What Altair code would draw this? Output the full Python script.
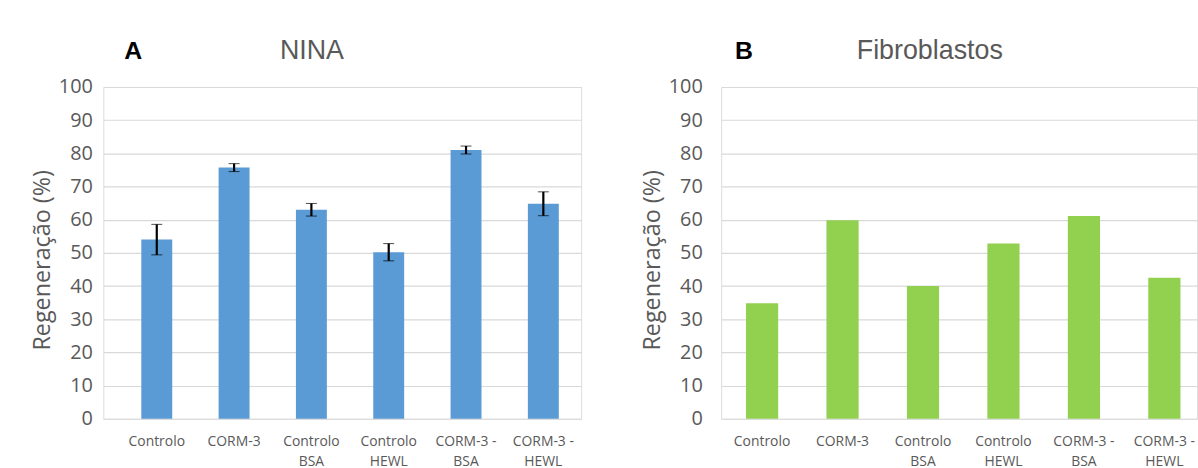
import altair as alt
import pandas as pd

categories = ["Controlo", "CORM-3", "Controlo\nBSA", "Controlo\nHEWL", "CORM-3 -\nBSA", "CORM-3 -\nHEWL"]

# Panel A: NINA (mean and error)
nina_mean = [54.0, 75.7, 63.0, 50.2, 81.0, 64.8]
nina_err = [4.6, 1.2, 1.9, 2.6, 1.2, 3.6]

# Panel B: Fibroblastos
fibro_mean = [34.8, 59.8, 40.0, 52.8, 61.1, 42.5]

LABEL_FONT = "Open Sans"
GREY = "#595959"


def y_enc(field, label_pad):
    return alt.Y(
        f"{field}:Q",
        title="Regeneração (%)",
        scale=alt.Scale(domain=[0, 100], nice=False),
        axis=alt.Axis(
            values=list(range(0, 101, 10)),
            labelFont=LABEL_FONT,
            labelFontSize=20,
            labelColor=GREY,
            labelPadding=label_pad,
            titleFont=LABEL_FONT,
            titleFontSize=23.5,
            titleFontWeight="normal",
            titleColor=GREY,
            titlePadding=4,
            titleY=174,
            domain=False,
            ticks=False,
            gridColor="#d9d9d9",
            gridWidth=1.2,
        ),
    )


def x_enc(outer, align):
    return alt.X(
        "cat:N",
        sort=categories,
        title=None,
        scale=alt.Scale(paddingInner=0.6, paddingOuter=outer, align=align),
        axis=alt.Axis(
            labelAngle=0,
            labelExpr="split(datum.label, '\\n')",
            labelFont=LABEL_FONT,
            labelFontSize=14,
            labelColor=GREY,
            labelLineHeight=20,
            labelPadding=16,
            domain=False,
            ticks=False,
        ),
    )


def panel(means, color, letter, title, letter_x, title_x, width, label_pad, outer, align, errs=None):
    df = pd.DataFrame({"cat": categories, "val": means})
    bars = alt.Chart(df).mark_bar(color=color).encode(
        x=x_enc(outer, align), y=y_enc("val", label_pad)
    )
    layers = [bars]
    if errs is not None:
        edf = pd.DataFrame({
            "cat": categories,
            "lo": [m - e for m, e in zip(means, errs)],
            "hi": [m + e for m, e in zip(means, errs)],
        })
        err = alt.Chart(edf).mark_errorbar(
            ticks=alt.MarkConfig(size=11, color="black", strokeWidth=2.2),
            rule=alt.MarkConfig(color="black", strokeWidth=2.2),
        ).encode(
            x=x_enc(outer, align),
            y=y_enc("lo", label_pad),
            y2="hi:Q",
        )
        layers.append(err)
    letter_mark = alt.Chart(pd.DataFrame({"t": [letter]})).mark_text(
        font="Liberation Sans", fontSize=25, fontWeight="bold", color="black", align="left", baseline="middle"
    ).encode(text="t:N", x=alt.value(letter_x), y=alt.value(-36))
    title_mark = alt.Chart(pd.DataFrame({"t": [title]})).mark_text(
        font="Liberation Sans", fontSize=27, color=GREY, align="center", baseline="middle"
    ).encode(text="t:N", x=alt.value(title_x), y=alt.value(-36))
    layers += [letter_mark, title_mark]
    return alt.layer(*layers).properties(width=width, height=334)


left = panel(nina_mean, "#5B9BD5", "A", "NINA", 21, 210, 481, 11, 0.39, 0.63, nina_err)
right = panel(fibro_mean, "#92D050", "B", "Fibroblastos", 14, 210, 479, 19, 0.257, 0.6)

chart = alt.hconcat(left, right, spacing=58).properties(
    padding={"left": 30, "top": 35, "right": 0, "bottom": 0}
).configure_view(stroke=None).configure(background="white")

chart.save("out.html", embed_options={"renderer": "svg", "actions": False})
